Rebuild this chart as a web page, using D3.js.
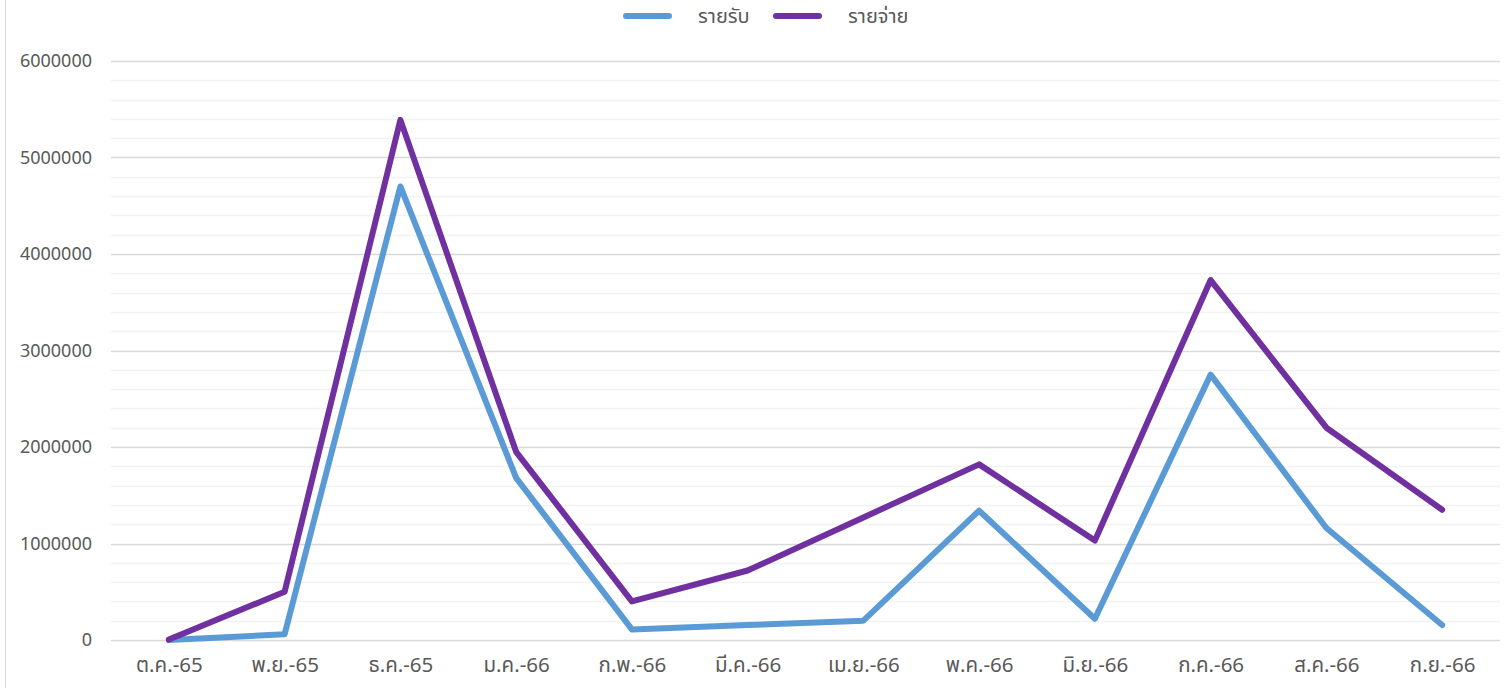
<!DOCTYPE html>
<html><head><meta charset="utf-8">
<script src="https://cdn.jsdelivr.net/npm/d3@7"></script>
<style>
html,body{margin:0;padding:0;background:#fff;}
text{font-family:"Noto Sans Thai","Noto Sans","DejaVu Sans",sans-serif;fill:#595959;}
</style></head>
<body><svg id="c" width="1506" height="688"></svg>
<script>
const categories = ["ต.ค.-65","พ.ย.-65","ธ.ค.-65","ม.ค.-66","ก.พ.-66","มี.ค.-66","เม.ย.-66","พ.ค.-66","มิ.ย.-66","ก.ค.-66","ส.ค.-66","ก.ย.-66"];
const income = [0, 60000, 4700000, 1680000, 110000, 155000, 200000, 1340000, 220000, 2750000, 1160000, 155000];
const expense = [5000, 500000, 5390000, 1950000, 400000, 720000, 1270000, 1820000, 1030000, 3730000, 2200000, 1350000];
const seriesNames = ["รายรับ","รายจ่าย"];
const yTicks = [0,1000000,2000000,3000000,4000000,5000000,6000000];

(function(){
const svg = d3.select("#c");
const W=1506,H=688;
const mLeft=111,mRight=1500,mTop=61,mBottom=640;
const x = d3.scalePoint().domain(categories).range([mLeft,mRight]).padding(0.5);
const y = d3.scaleLinear().domain([0,6000000]).range([mBottom,mTop]);

svg.append("line").attr("x1",5.5).attr("x2",5.5).attr("y1",0).attr("y2",H).attr("stroke","#d9d9d9").attr("stroke-width",1);

const minor = d3.range(0,6000001,200000).filter(v=>v%1000000!==0);
svg.append("g").selectAll("line").data(minor).join("line")
  .attr("x1",mLeft).attr("x2",mRight).attr("y1",d=>Math.round(y(d))+0.5).attr("y2",d=>Math.round(y(d))+0.5)
  .attr("stroke","#f2f2f2").attr("stroke-width",1.3);
svg.append("g").selectAll("line").data(yTicks).join("line")
  .attr("x1",mLeft).attr("x2",mRight).attr("y1",d=>Math.round(y(d))+0.5).attr("y2",d=>Math.round(y(d))+0.5)
  .attr("stroke","#d9d9d9").attr("stroke-width",1.3);

const ya = svg.append("g").attr("transform",`translate(${mLeft},0)`)
  .call(d3.axisLeft(y).tickValues(yTicks).tickSize(0).tickPadding(19).tickFormat(d3.format("d")));
ya.select(".domain").remove();
ya.selectAll("text").style("font-size","18px").attr("fill","#595959");

const xa = svg.append("g").attr("transform",`translate(0,${mBottom})`)
  .call(d3.axisBottom(x).tickSize(0).tickPadding(17));
xa.select(".domain").remove();
xa.selectAll("text").style("font-size","20.5px").attr("fill","#595959");

const line = d3.line().x((d,i)=>x(categories[i])).y(d=>y(d));
const colors = ["#5B9BD5","#7030A0"];
[income,expense].forEach((s,k)=>{
  svg.append("path").attr("d",line(s)).attr("fill","none").attr("stroke",colors[k])
    .attr("stroke-width",6).attr("stroke-linejoin","round").attr("stroke-linecap","round");
});

const lg = svg.append("g");
const lx = [623, 773];
seriesNames.forEach((n,k)=>{
  lg.append("line").attr("x1",lx[k]+3).attr("x2",lx[k]+46).attr("y1",16).attr("y2",16)
    .attr("stroke",colors[k]).attr("stroke-width",6).attr("stroke-linecap","round");
  lg.append("text").attr("x",lx[k]+75).attr("y",23).style("font-size","20px").text(n);
});
})();
</script></body></html>
